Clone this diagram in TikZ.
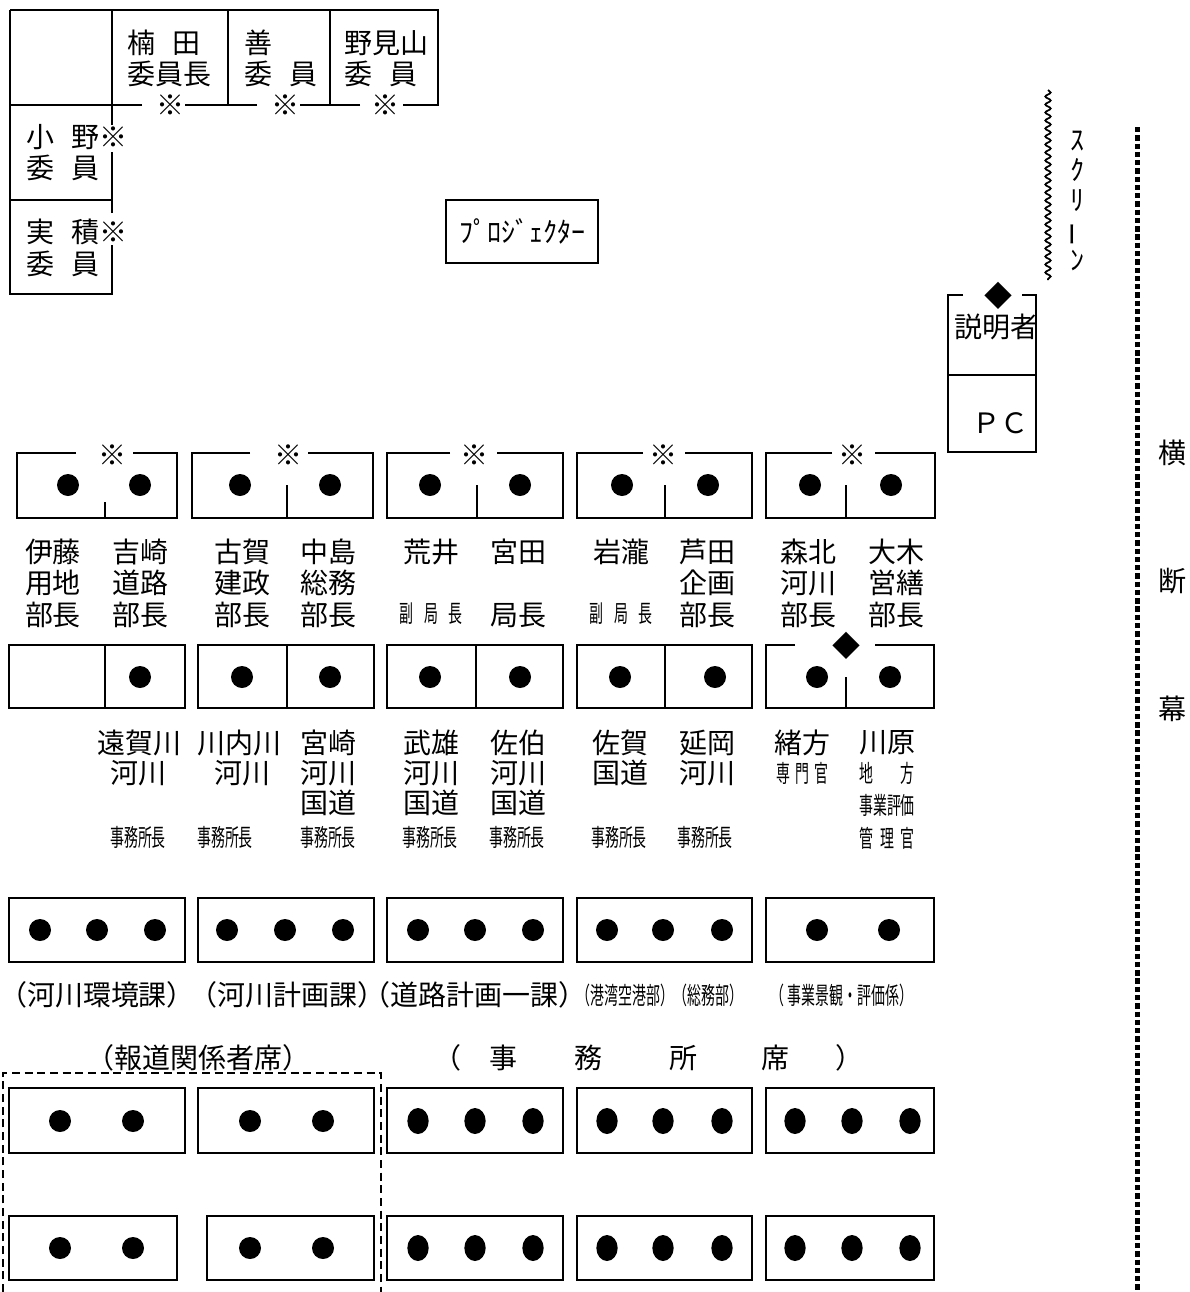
\documentclass[tikz,border=0pt]{standalone}
\usepackage{fontspec}
\setmainfont{Noto Sans CJK JP}
\usetikzlibrary{shapes.geometric,decorations.pathmorphing}
\newcommand\bigf{\fontsize{21}{24}\selectfont}
\newcommand\cnd[1]{\scalebox{0.58}[1]{\fontsize{18}{20}\selectfont #1}}
\newcommand\hs{\hspace{0.6em}}
\begin{document}
\begin{tikzpicture}[x=0.75pt,y=-0.75pt,
  ln/.style={line width=1.5pt},
  seat/.style={circle, fill=black, inner sep=0pt, minimum size=16.5pt},
  oseat/.style={ellipse, fill=black, inner sep=0pt, minimum width=16pt, minimum height=19.5pt},
  txt/.style={inner sep=0pt, font=\bigf},
  sml/.style={inner sep=0pt},
  press/.style={line width=1.5pt, dash pattern=on 6pt off 3.5pt},
  banner/.style={line width=3.75pt, dash pattern=on 4pt off 2.2pt},
  wavy/.style={line width=1.3pt, decorate, decoration={snake, amplitude=2pt, segment length=6pt}}]
\fill[white] (0,0) rectangle (1189,1292);
\useasboundingbox (0,0) rectangle (1189,1292);

% ---------- committee frame ----------
\draw[ln] (10,10) -- (438,10) -- (438,105) -- (403,105);
\draw[ln] (360,105) -- (300,105);
\draw[ln] (257,105) -- (185,105);
\draw[ln] (142,105) -- (10,105);
\draw[ln] (10,10) -- (10,294) -- (112,294) -- (112,245);
\draw[ln] (112,213) -- (112,152);
\draw[ln] (112,125) -- (112,10);
\draw[ln] (228,10) -- (228,105);
\draw[ln] (330,10) -- (330,105);
\draw[ln] (10,200) -- (112,200);
\node[txt] (k1) at (170,105) {※};
\node[txt] (k2) at (285,105) {※};
\node[txt] (k3) at (385,105) {※};
\node[txt, anchor=west] (c1a) at (127,43) {楠\hs 田};
\node[txt, anchor=west] (c1b) at (127,74) {委員長};
\node[txt, anchor=west] (c2a) at (244,43) {善};
\node[txt, anchor=west] (c2b) at (244,74) {委\hs 員};
\node[txt, anchor=west] (c3a) at (344,43) {野見山};
\node[txt, anchor=west] (c3b) at (344,74) {委\hs 員};
\node[txt, anchor=west] (c4a) at (26,137) {小\hs 野※};
\node[txt, anchor=west] (c4b) at (26,168) {委\hs 員};
\node[txt, anchor=west] (c5a) at (26,232) {実\hs 積※};
\node[txt, anchor=west] (c5b) at (26,264) {委\hs 員};

% ---------- projector ----------
\node[draw, ln, minimum width=114pt, minimum height=47.25pt, inner sep=0pt, font=\bigf] (proj) at (522,231.5) {ﾌﾟﾛｼﾞｪｸﾀｰ};

% ---------- screen ----------
\draw[wavy] (1048,90) -- (1048,280);
\node[inner sep=0pt, align=center, font={\fontsize{21}{22.5}\selectfont}] (scr) at (1077,201) {ｽ\\ｸ\\ﾘ\\\rotatebox[origin=c]{90}{\scalebox{1.7}[1]{ｰ}}\\ﾝ};

% ---------- banner ----------
\draw[banner] (1137,127) -- (1137,1292);
\node[inner sep=0pt, align=center, font={\fontsize{21}{96}\selectfont}] (ban) at (1172,581) {横\\断\\幕};

% ---------- explainer ----------
\draw[ln] (963,295) -- (948,295) -- (948,452) -- (1036,452) -- (1036,295) -- (1022,295);
\draw[ln] (948,375) -- (1036,375);
\node[txt] (exd) at (998,296) {◆};
\node[txt] (exp) at (996,327) {説明者};
\node[txt] (pc) at (1000,423) {ＰＣ};

% ---------- row 1 ----------
\foreach \xa/\xb/\ga/\gb/\dv/\dt/\k/\da/\db [count=\i] in
 {17/177/76/133/105/502/112/68/140,
  192/373/250/308/287/485/288/240/330,
  387/563/450/497/477/485/474/430/520,
  577/752/643/685/665/485/663/622/708,
  766/935/832/875/846/485/852/810/891}{
  \draw[ln] (\ga,453) -- (\xa,453) -- (\xa,518) -- (\xb,518) -- (\xb,453) -- (\gb,453);
  \draw[ln] (\dv,\dt) -- (\dv,518);
  \node[txt] (r1k\i) at (\k,455) {※};
  \node[seat] (r1a\i) at (\da,485) {};
  \node[seat] (r1b\i) at (\db,485) {};
}
\foreach \x/\a/\b/\c [count=\i] in {53/伊藤/用地/部長, 140/吉崎/道路/部長, 242/古賀/建政/部長,
  328/中島/総務/部長, 707/芦田/企画/部長, 808/森北/河川/部長, 896/大木/営繕/部長}{
  \node[txt] (n1a\i) at (\x,552) {\a};
  \node[txt] (n1b\i) at (\x,583) {\b};
  \node[txt] (n1c\i) at (\x,615) {\c};
}
\node[txt] (arai) at (431,552) {荒井};
\node[sml] (arait) at (431,614) {\cnd{副\hspace{13.4pt}局\hspace{13.4pt}長}};
\node[txt] (miyata) at (518,552) {宮田};
\node[txt] (miyatat) at (518,615) {局長};
\node[txt] (iwa) at (621,552) {岩瀧};
\node[sml] (iwat) at (621,614) {\cnd{副\hspace{13.4pt}局\hspace{13.4pt}長}};

% ---------- row 2 ----------
\foreach \xa/\xb/\dv [count=\i] in {9/185/105, 198/374/287, 387/563/476, 577/752/665}{
  \draw[ln] (\xa,645) rectangle (\xb,708);
  \draw[ln] (\dv,645) -- (\dv,708);
}
\draw[ln] (795,645) -- (766,645) -- (766,708) -- (934,708) -- (934,645) -- (875,645);
\draw[ln] (846,677) -- (846,708);
\node[txt] (r2d) at (846,646) {◆};
\foreach \x [count=\i] in {140,242,330,430,520,620,715,817,890}{
  \node[seat] (r2s\i) at (\x,677) {};
}
\node[txt] (l1) at (139,743) {遠賀川};
\node[txt] (l2) at (138,773) {河川};
\node[txt] (l3) at (239,743) {川内川};
\node[txt] (l4) at (242,773) {河川};
\foreach \x/\a/\b/\c [count=\i] in {328/宮崎/河川/国道, 431/武雄/河川/国道, 518/佐伯/河川/国道}{
  \node[txt] (m1a\i) at (\x,743) {\a};
  \node[txt] (m1b\i) at (\x,773) {\b};
  \node[txt] (m1c\i) at (\x,803) {\c};
}
\node[txt] (l5) at (620,743) {佐賀};
\node[txt] (l6) at (620,773) {国道};
\node[txt] (l7) at (707,743) {延岡};
\node[txt] (l8) at (707,773) {河川};
\foreach \x [count=\i] in {138,225,328,430,517,619,705}{
  \node[sml] (jm\i) at (\x,837) {\cnd{事務所長}};
}
\node[txt] (oga) at (802,743) {緒方};
\node[sml] (ogat) at (802,773) {\cnd{専\hspace{6.6pt}門\hspace{6.6pt}官}};
\node[txt] (kawa) at (887,743) {川原};
\node[sml] (kawa1) at (887,773) {\cnd{地\hspace{36pt}方}};
\node[sml] (kawa2) at (887,805) {\cnd{事業評価}};
\node[sml] (kawa3) at (887,838) {\cnd{管\hspace{9pt}理\hspace{9pt}官}};

% ---------- row 3 ----------
\foreach \xa/\xb in {9/185, 198/374, 387/563, 577/752, 766/934}{
  \draw[ln] (\xa,898) rectangle (\xb,962);
}
\foreach \x [count=\i] in {40,97,155,227,285,343,418,475,533,607,663,722,817,889}{
  \node[seat] (r3s\i) at (\x,930) {};
}
\node[txt] (g1) at (97,995) {（河川環境課）};
\node[txt] (g2) at (287,995) {（河川計画課）};
\node[txt] (g3) at (474,995) {（道路計画一課）};
\node[sml] (g4) at (660,995) {\cnd{（港湾空港部）（総務部）}};
\node[sml] (g5) at (842,995) {\cnd{（ 事業景観・評価係）}};

% ---------- seat area labels ----------
\node[txt] (pressl) at (198,1058) {（報道関係者席）};
\node[txt, anchor=west] (offl) at (433,1058) {（\hspace{21pt}事\hspace{42.75pt}務\hspace{50.25pt}所\hspace{48pt}席\hspace{34.5pt}）};
\draw[press] (3,1292) -- (3,1073) -- (381,1073) -- (381,1292);

% ---------- rows 4 and 5 ----------
\foreach \xa/\xb in {9/185, 198/374, 387/563, 577/752, 766/934}{
  \draw[ln] (\xa,1088) rectangle (\xb,1153);
}
\foreach \xa/\xb in {9/177, 207/374, 387/563, 577/752, 766/934}{
  \draw[ln] (\xa,1216) rectangle (\xb,1280);
}
\foreach \x [count=\i] in {60,133,250,323}{
  \node[seat] (r4c\i) at (\x,1121) {};
  \node[seat] (r5c\i) at (\x,1248) {};
}
\foreach \x [count=\i] in {418,475,533,607,663,722,795,852,910}{
  \node[oseat] (r4e\i) at (\x,1121) {};
  \node[oseat] (r5e\i) at (\x,1248) {};
}
\end{tikzpicture}
\end{document}
